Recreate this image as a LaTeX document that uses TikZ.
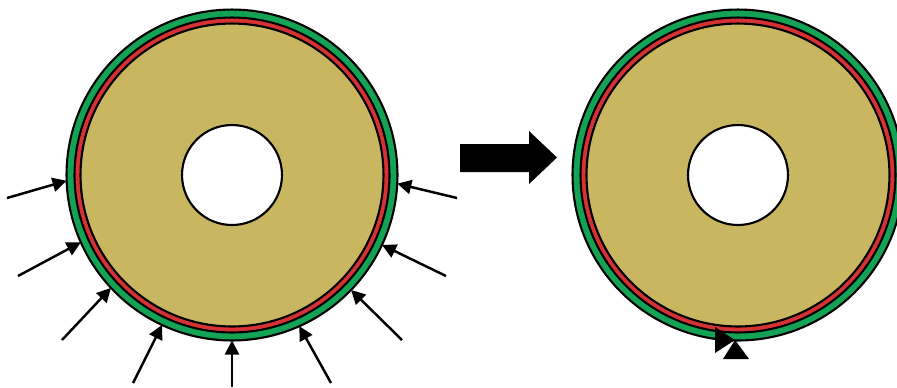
\documentclass[tikz,border=0pt]{standalone}
\usetikzlibrary{arrows.meta}
\definecolor{sandfill}{RGB}{201,182,96}
\definecolor{jacketgreen}{RGB}{20,162,84}
\definecolor{linerred}{RGB}{214,50,52}
\begin{document}
\begin{tikzpicture}[x=0.02cm, y=-0.02cm,
    shell/.style={circle, draw=black, line width=1.2pt, inner sep=0pt, outer sep=0pt},
    push/.style={-{Triangle[length=8pt, width=8pt]}, line width=1.4pt},
]
\clip (0,0) rectangle (897,387);

% left pipe
\node[shell, fill=jacketgreen, minimum size=6.62cm] (ringL) at (232,175) {};
\node[shell, fill=linerred, minimum size=6.30cm] (linerL) at (232,175) {};
\node[shell, fill=sandfill, minimum size=6.06cm] (coreL) at (232,175) {};
\node[shell, fill=white, minimum size=2cm] (holeL) at (232,175) {};

% external pressure
\foreach \ang/\tx/\ty [count=\i] in {182.7/7/198, 204.1/18/276, 223.8/62/340,
    245.4/133/383, 270/232/387, 294.6/331/383, 316.2/402/340,
    335.9/446/276, 357.3/457/198}
{
  \coordinate (t\i) at (\tx,\ty);
  \draw[push] (t\i) -- (ringL.\ang);
}

% big arrow
\fill (460,144) -- (529,144) -- (529,131) -- (557,157.5) -- (529,184)
  -- (529,172) -- (460,172) -- cycle;

% right pipe
\node[shell, fill=jacketgreen, minimum size=6.62cm] (ringR) at (738,175) {};
\node[shell, fill=linerred, minimum size=6.30cm] (linerR) at (738,175) {};
\node[shell, fill=sandfill, minimum size=6.06cm] (coreR) at (738,175) {};
\node[shell, fill=white, minimum size=2cm] (holeR) at (738,175) {};

% tips at the bottom
\fill (715,327) -- (735,340) -- (715,353) -- cycle;
\fill (735,340) -- (749,359) -- (723,359) -- cycle;
\end{tikzpicture}
\end{document}
